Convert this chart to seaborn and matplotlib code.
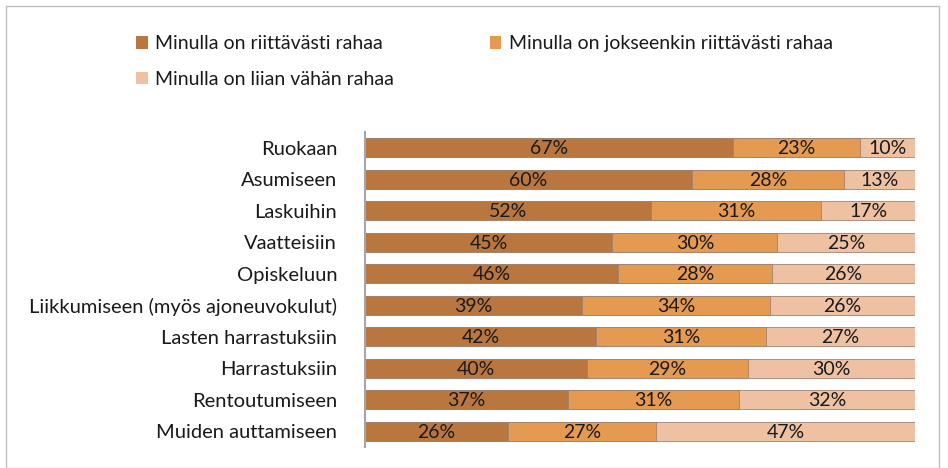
import matplotlib.pyplot as plt
from matplotlib.patches import Patch, Rectangle
import pandas as pd
import seaborn as sns

categories = ["Ruokaan", "Asumiseen", "Laskuihin", "Vaatteisiin", "Opiskeluun",
              "Liikkumiseen (myös ajoneuvokulut)", "Lasten harrastuksiin",
              "Harrastuksiin", "Rentoutumiseen", "Muiden auttamiseen"]
riittavasti = [67, 60, 52, 45, 46, 39, 42, 40, 37, 26]
jokseenkin = [23, 28, 31, 30, 28, 34, 31, 29, 31, 27]
liian_vahan = [10, 13, 17, 25, 26, 26, 27, 30, 32, 47]
series_names = ["Minulla on riittävästi rahaa",
                "Minulla on jokseenkin riittävästi rahaa",
                "Minulla on liian vähän rahaa"]
colors = ["#B9773F", "#E59A52", "#EFC1A3"]

sns.set_style("white")
plt.rcParams['font.family'] = ['Lato', 'DejaVu Sans']

df = pd.DataFrame({"cat": categories, "a": riittavasti, "b": jokseenkin, "c": liian_vahan})
# 100 % stacked: scale each row to its total
tot = df[["a", "b", "c"]].sum(axis=1)
df["pa"] = df["a"] / tot * 100
df["pab"] = (df["a"] + df["b"]) / tot * 100
df["pabc"] = 100.0

fig = plt.figure(figsize=(9.48, 4.68), dpi=100)
ax = fig.add_axes([0.385, 0.045, 0.58, 0.673])

# stacked by overlaying cumulative totals
for col, c in zip(["pabc", "pab", "pa"], colors[::-1]):
    sns.barplot(data=df, y="cat", x=col, color=c, width=0.6, saturation=1,
                edgecolor="#A08272", linewidth=0.6, ax=ax)

fs = 14
for i, row in df.iterrows():
    starts = [0, row["pa"], row["pab"]]
    ends = [row["pa"], row["pab"], row["pabc"]]
    for s, e, v in zip(starts, ends, [row["a"], row["b"], row["c"]]):
        ax.text((s + e) / 2, i + 0.03, f"{v}%", ha="center", va="center",
                fontsize=fs, color="#1a1a1a")

ax.set_xlim(0, 100)
ax.set_ylim(9.5, -0.5)
ax.set_xlabel("")
ax.set_ylabel("")
ax.set_xticks([])
ax.tick_params(axis="y", length=0, labelsize=14.5, colors="#1a1a1a", pad=20)
for s in ["top", "right", "bottom"]:
    ax.spines[s].set_visible(False)
ax.spines["left"].set_color("#A6A6A6")
ax.spines["left"].set_linewidth(1.5)

handles = [Patch(facecolor=c, edgecolor="none") for c in colors]
order = [0, 2, 1]
fig.legend([handles[k] for k in order], [series_names[k] for k in order],
           ncol=2, loc="upper left", bbox_to_anchor=(0.125, 0.962),
           frameon=False, fontsize=fs, handlelength=0.6, handleheight=0.6,
           handletextpad=0.4, labelspacing=0.95, columnspacing=4.9,
           labelcolor="#1a1a1a")

fig.patches.append(Rectangle((0.006, 0.0), 0.984, 0.988, transform=fig.transFigure,
                             fill=False, edgecolor="#BFBFBF", linewidth=1))

plt.savefig("out.png", dpi=100)
